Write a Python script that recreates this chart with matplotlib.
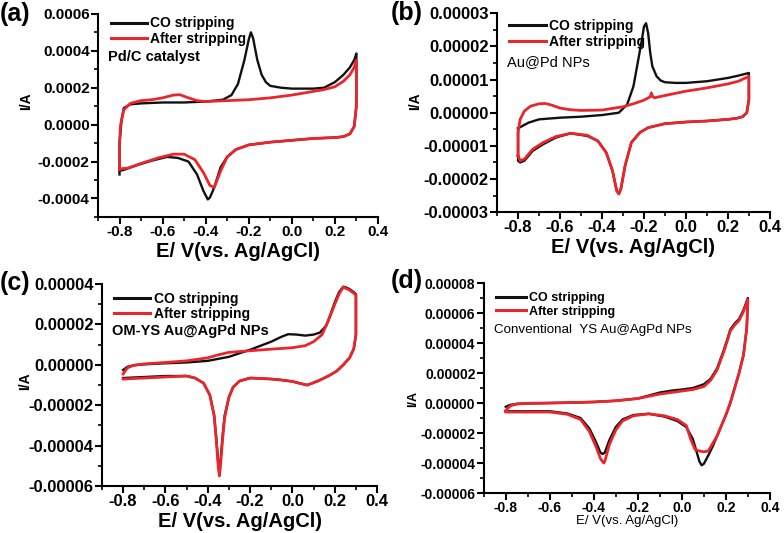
import numpy as np
import matplotlib
matplotlib.use("Agg")
import matplotlib.pyplot as plt
from matplotlib.ticker import FormatStrFormatter, MultipleLocator, AutoMinorLocator

plt.rcParams['font.family'] = ['Liberation Sans', 'DejaVu Sans']

BLACK = '#111111'
RED = '#e8262b'

# ---- (a) Pd/C catalyst, current in 1e-4 A ----
a_co_e = [-0.80, -0.80, -0.79, -0.78, -0.75, -0.70, -0.60, -0.50, -0.40, -0.32, -0.28, -0.25, -0.22,
          -0.20, -0.19, -0.18, -0.16, -0.14, -0.12, -0.10, -0.05, 0.00, 0.10, 0.15, 0.20, 0.24, 0.27,
          0.29, 0.30,
          0.30, 0.29, 0.27, 0.24, 0.20, 0.10, 0.00, -0.10, -0.20, -0.26, -0.30, -0.33, -0.36, -0.38,
          -0.39, -0.41, -0.44, -0.48, -0.53, -0.58, -0.65, -0.72, -0.78, -0.80]
a_co_i = [-2.7, -1.0, 0.3, 0.9, 1.1, 1.15, 1.2, 1.2, 1.25, 1.35, 1.6, 2.2, 3.5,
          4.6, 5.0, 4.7, 3.5, 2.7, 2.3, 2.1, 2.0, 1.95, 1.95, 2.0, 2.3, 2.7, 3.1,
          3.5, 3.85,
          1.0, -0.1, -0.5, -0.65, -0.7, -0.75, -0.85, -0.95, -1.1, -1.35, -1.75, -2.3, -3.4, -3.95,
          -4.05, -3.6, -2.7, -2.0, -1.8, -1.75, -1.95, -2.2, -2.45, -2.5]
a_af_e = [-0.80, -0.80, -0.795, -0.78, -0.75, -0.70, -0.65, -0.60, -0.55, -0.52, -0.48, -0.44, -0.40,
          -0.30, -0.20, -0.10, 0.00, 0.10, 0.15, 0.20, 0.24, 0.27, 0.29, 0.30,
          0.30, 0.29, 0.27, 0.24, 0.20, 0.10, 0.00, -0.10, -0.20, -0.26, -0.30, -0.33, -0.36, -0.38,
          -0.41, -0.45, -0.50, -0.55, -0.62, -0.70, -0.76, -0.80]
a_af_i = [-2.45, -1.0, 0.0, 0.8, 1.15, 1.3, 1.35, 1.45, 1.6, 1.62, 1.45, 1.3, 1.25,
          1.3, 1.35, 1.45, 1.6, 1.8, 1.9, 2.05, 2.35, 2.7, 3.1, 3.5,
          1.0, -0.1, -0.5, -0.65, -0.7, -0.75, -0.85, -0.95, -1.1, -1.35, -1.75, -2.5, -3.4, -3.3,
          -2.6, -1.9, -1.6, -1.6, -1.8, -2.1, -2.35, -2.4]

# ---- (b) Au@Pd NPs, current in 1e-5 A ----
b_co_e = [-0.80, -0.75, -0.70, -0.60, -0.50, -0.40, -0.32, -0.28, -0.25, -0.23, -0.21, -0.20, -0.19,
          -0.18, -0.17, -0.16, -0.14, -0.12, -0.10, -0.05, 0.00, 0.10, 0.20, 0.25, 0.30,
          0.30, 0.29, 0.27, 0.24, 0.20, 0.10, 0.00, -0.10, -0.18, -0.22, -0.26, -0.29, -0.31, -0.32,
          -0.33, -0.35, -0.38, -0.42, -0.47, -0.55, -0.62, -0.68, -0.73, -0.77, -0.79, -0.80, -0.80]
b_co_i = [-0.47, -0.3, -0.2, -0.15, -0.12, -0.07, 0.0, 0.25, 0.8, 1.5, 2.2, 2.6, 2.7,
          2.4, 1.8, 1.4, 1.1, 0.97, 0.92, 0.9, 0.9, 0.95, 1.05, 1.12, 1.2,
          0.4, 0.0, -0.12, -0.17, -0.2, -0.25, -0.28, -0.33, -0.45, -0.6, -0.9, -1.6, -2.3, -2.45,
          -2.35, -1.75, -1.2, -0.85, -0.7, -0.62, -0.75, -0.95, -1.15, -1.45, -1.5, -1.45, -0.47]
b_af_e = [-0.80, -0.80, -0.79, -0.77, -0.74, -0.70, -0.67, -0.64, -0.60, -0.55, -0.50, -0.40, -0.30,
          -0.25, -0.20, -0.17, -0.165, -0.16, -0.15, -0.10, 0.00, 0.10, 0.20, 0.25, 0.30,
          0.30, 0.29, 0.27, 0.24, 0.20, 0.10, 0.00, -0.10, -0.18, -0.22, -0.26, -0.29, -0.31, -0.32,
          -0.33, -0.35, -0.38, -0.42, -0.47, -0.55, -0.62, -0.68, -0.73, -0.77, -0.79, -0.80]
b_af_i = [-1.3, -0.6, -0.2, 0.05, 0.2, 0.27, 0.28, 0.23, 0.14, 0.09, 0.07, 0.08, 0.18,
          0.27, 0.38, 0.48, 0.6, 0.5, 0.45, 0.52, 0.65, 0.75, 0.87, 0.95, 1.1,
          0.4, 0.0, -0.12, -0.17, -0.2, -0.25, -0.28, -0.33, -0.45, -0.6, -0.9, -1.6, -2.3, -2.45,
          -2.35, -1.75, -1.2, -0.85, -0.68, -0.62, -0.72, -0.9, -1.1, -1.4, -1.45, -1.3]

# ---- (c) OM-YS Au@AgPd NPs, current in 1e-5 A ----
c_co_e = [-0.80, -0.78, -0.75, -0.70, -0.60, -0.50, -0.40, -0.30, -0.20, -0.10, -0.05, -0.02, 0.02,
          0.06, 0.10, 0.13, 0.16, 0.18, 0.20, 0.22, 0.24, 0.25, 0.27, 0.29, 0.30,
          0.30, 0.29, 0.27, 0.24, 0.21, 0.17, 0.12, 0.07, 0.03, 0.00, -0.05, -0.10, -0.20, -0.25,
          -0.28, -0.30, -0.32, -0.33, -0.34, -0.345, -0.35, -0.36, -0.37, -0.39, -0.42, -0.46, -0.50,
          -0.60, -0.70, -0.80]
c_co_i = [-0.25, -0.1, -0.02, 0.03, 0.08, 0.12, 0.2, 0.4, 0.75, 1.15, 1.4, 1.52, 1.5,
          1.45, 1.5, 1.6, 1.95, 2.5, 3.1, 3.6, 3.87, 3.85, 3.75, 3.6, 3.5,
          1.5, 0.8, 0.35, 0.0, -0.3, -0.55, -0.8, -1.0, -0.9, -0.82, -0.75, -0.7, -0.65, -0.8,
          -1.1, -1.6, -2.5, -3.5, -4.8, -5.3, -4.9, -3.6, -2.5, -1.5, -0.9, -0.65, -0.55,
          -0.55, -0.6, -0.65]
c_af_e = [-0.80, -0.78, -0.75, -0.70, -0.60, -0.50, -0.40, -0.35, -0.30, -0.20, -0.10, 0.00, 0.06,
          0.10, 0.14, 0.17, 0.20, 0.22, 0.24, 0.25, 0.27, 0.29, 0.30,
          0.30, 0.29, 0.27, 0.24, 0.21, 0.17, 0.12, 0.07, 0.03, 0.00, -0.05, -0.10, -0.20, -0.25,
          -0.28, -0.30, -0.32, -0.33, -0.34, -0.345, -0.35, -0.36, -0.37, -0.39, -0.42, -0.46, -0.50,
          -0.60, -0.70, -0.80]
c_af_i = [-0.45, -0.15, -0.02, 0.05, 0.12, 0.2, 0.35, 0.5, 0.62, 0.7, 0.78, 0.85, 0.95,
          1.15, 1.5, 2.2, 3.0, 3.5, 3.85, 3.8, 3.7, 3.55, 3.45,
          1.5, 0.8, 0.35, 0.0, -0.3, -0.55, -0.8, -1.0, -0.9, -0.82, -0.75, -0.7, -0.65, -0.8,
          -1.1, -1.6, -2.6, -3.7, -5.0, -5.5, -5.1, -3.7, -2.5, -1.5, -0.9, -0.65, -0.55,
          -0.6, -0.65, -0.7]

# ---- (d) Conventional YS Au@AgPd NPs, current in 1e-5 A ----
d_co_e = [-0.80, -0.78, -0.75, -0.70, -0.60, -0.50, -0.40, -0.30, -0.20, -0.15, -0.10, -0.05, 0.00,
          0.05, 0.10, 0.13, 0.16, 0.19, 0.21, 0.22, 0.24, 0.26, 0.28, 0.30,
          0.295, 0.28, 0.26, 0.24, 0.22, 0.20, 0.18, 0.16, 0.14, 0.12, 0.10, 0.09, 0.08, 0.07, 0.05,
          0.02, -0.02, -0.08, -0.15, -0.22, -0.27, -0.30, -0.33, -0.35, -0.36, -0.37, -0.39, -0.42,
          -0.46, -0.52, -0.60, -0.70, -0.80]
d_co_i = [-0.25, -0.12, -0.07, -0.03, 0.0, 0.03, 0.07, 0.15, 0.3, 0.5, 0.7, 0.82, 0.9,
          1.0, 1.25, 1.6, 2.3, 3.5, 4.4, 4.9, 5.3, 5.6, 6.2, 7.0,
          5.0, 3.2, 2.0, 1.0, 0.0, -0.8, -1.5, -2.2, -2.9, -3.5, -4.05, -4.15, -3.9, -3.4, -2.4,
          -1.6, -1.2, -0.9, -0.72, -0.8, -1.1, -1.6, -2.5, -3.3, -3.4, -3.3, -2.6, -1.7,
          -1.0, -0.7, -0.55, -0.55, -0.55]
d_af_e = [-0.80, -0.78, -0.75, -0.70, -0.60, -0.50, -0.40, -0.30, -0.20, -0.15, -0.10, -0.05, 0.00,
          0.05, 0.10, 0.13, 0.16, 0.19, 0.21, 0.22, 0.24, 0.26, 0.28, 0.30,
          0.295, 0.28, 0.26, 0.24, 0.22, 0.20, 0.18, 0.16, 0.14, 0.12, 0.10, 0.08, 0.06, 0.04,
          0.02, -0.02, -0.08, -0.15, -0.22, -0.27, -0.30, -0.33, -0.35, -0.355, -0.37, -0.39, -0.42,
          -0.46, -0.52, -0.60, -0.70, -0.80]
d_af_i = [-0.5, -0.2, -0.05, -0.02, 0.0, 0.03, 0.07, 0.15, 0.3, 0.45, 0.6, 0.7, 0.8,
          0.9, 1.1, 1.5, 2.2, 3.4, 4.3, 4.8, 5.2, 5.5, 6.1, 6.9,
          5.0, 3.2, 2.0, 1.0, 0.0, -0.8, -1.5, -2.2, -2.7, -3.2, -3.25, -3.2, -3.1, -2.4,
          -1.5, -1.1, -0.85, -0.72, -0.85, -1.2, -1.8, -2.8, -3.9, -4.0, -3.7, -2.9, -1.9,
          -1.1, -0.75, -0.6, -0.6, -0.6]

panels = [
    dict(tag='(a)', co=(a_co_e, a_co_i), af=(a_af_e, a_af_i), scale=1e-4,
         ylim=(-0.0005, 0.0006), ystep=0.0002, yfmt='%.4f', note='Pd/C catalyst',
         rect=[0.125, 0.593, 0.357, 0.381], note_bold=True, note_y=0.79, note_size=10.5,
         tick_size=11, leg_y=1.015, leg_size=10, handle=2.6, ylab=(-0.232, 0.57),
         xlab_size=14.5),
    dict(tag='(b)', co=(b_co_e, b_co_i), af=(b_af_e, b_af_i), scale=1e-5,
         ylim=(-0.00003, 0.00003), ystep=0.00001, yfmt='%.5f', note='Au@Pd NPs',
         rect=[0.634, 0.602, 0.348, 0.373], note_bold=False, note_y=0.755, note_size=10.5,
         tick_size=12, leg_y=1.0, leg_size=10, handle=2.6, ylab=(-0.275, 0.56),
         xlab_size=14.5),
    dict(tag='(c)', co=(c_co_e, c_co_i), af=(c_af_e, c_af_i), scale=1e-5,
         ylim=(-0.00006, 0.00004), ystep=0.00002, yfmt='%.5f', note='OM-YS Au@AgPd NPs',
         rect=[0.130, 0.088, 0.351, 0.379], note_bold=True, note_y=0.77, note_size=10.5,
         tick_size=12, leg_y=0.99, leg_size=10, handle=2.6, ylab=(-0.255, 0.52),
         xlab_size=14.5),
    dict(tag='(d)', co=(d_co_e, d_co_i), af=(d_af_e, d_af_i), scale=1e-5,
         ylim=(-0.00006, 0.00008), ystep=0.00002, yfmt='%.5f', note='Conventional  YS Au@AgPd NPs',
         rect=[0.617, 0.075, 0.365, 0.394], note_bold=False, note_y=0.774, note_size=9.6,
         tick_size=10, leg_y=0.98, leg_size=9, handle=2.4, ylab=(-0.227, 0.45),
         xlab_size=9.5),
]

fig = plt.figure(figsize=(7.84, 5.33), dpi=100)

tag_pos = {'(a)': (0.0, 0.997), '(b)': (0.499, 0.998), '(c)': (0.0, 0.492), '(d)': (0.499, 0.496)}

for p in panels:
    ax = fig.add_axes(p['rect'])
    s = p['scale']
    ax.plot(p['co'][0], np.array(p['co'][1]) * s, color=BLACK, lw=1.7, label='CO stripping')
    ax.plot(p['af'][0], np.array(p['af'][1]) * s, color=RED, lw=2.0, label='After stripping')
    ax.set_xlim(-0.9, 0.4)
    ax.set_ylim(*p['ylim'])
    ax.xaxis.set_major_locator(MultipleLocator(0.2))
    ax.xaxis.set_minor_locator(MultipleLocator(0.1))
    ax.yaxis.set_major_locator(MultipleLocator(p['ystep']))
    ax.yaxis.set_minor_locator(AutoMinorLocator(2))
    ax.xaxis.set_major_formatter(FormatStrFormatter('%.1f'))
    ax.yaxis.set_major_formatter(FormatStrFormatter(p['yfmt']))
    for side in ['top', 'right']:
        ax.spines[side].set_visible(False)
    for side in ['left', 'bottom']:
        ax.spines[side].set_linewidth(1.5)
    ax.tick_params(which='major', direction='out', length=5, width=1.5,
                   labelsize=p['tick_size'], pad=1)
    ax.tick_params(which='minor', direction='out', length=3, width=1.2)
    for lab in ax.get_xticklabels() + ax.get_yticklabels():
        lab.set_fontweight('bold')

    if p['tag'] == '(d)':
        ax.set_xlabel('E/ V(vs. Ag/AgCl)', fontsize=p['xlab_size'], labelpad=0)
    else:
        ax.set_xlabel('E/ V(vs. Ag/AgCl)', fontsize=p['xlab_size'], fontweight='bold', labelpad=2)
    ax.set_ylabel('I/A', fontsize=10 if p['tag'] != '(d)' else 9, fontweight='bold')
    ax.yaxis.set_label_coords(*p['ylab'])

    leg = ax.legend(loc='upper left', bbox_to_anchor=(0.025, p['leg_y']), frameon=False,
                    handlelength=p['handle'], handletextpad=0.25, labelspacing=0.12,
                    borderaxespad=0, prop={'weight': 'bold', 'size': p['leg_size']})
    for line in leg.get_lines():
        line.set_linewidth(2.2)

    ax.text(0.035, p['note_y'], p['note'], transform=ax.transAxes, fontsize=p['note_size'],
            fontweight='bold' if p['note_bold'] else 'normal', va='center', ha='left')

    tx, ty = tag_pos[p['tag']]
    fig.text(tx, ty, p['tag'], fontsize=18, fontweight='bold', va='top', ha='left')

fig.savefig('out.png', dpi=100)
